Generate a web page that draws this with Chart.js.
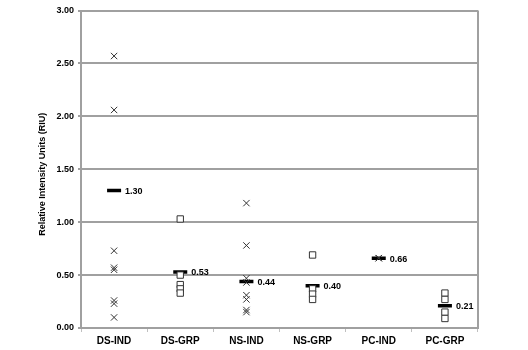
<!DOCTYPE html>
<html>
<head>
<meta charset="utf-8">
<script src="https://cdn.jsdelivr.net/npm/chart.js@4"></script>
<style>
  html, body { margin: 0; padding: 0; background: #fff; }
  #wrap { width: 528px; height: 350px; }
</style>
</head>
<body>
<div id="wrap"><canvas id="riuChart"></canvas></div>
<script>
const categories = ["DS-IND", "DS-GRP", "NS-IND", "NS-GRP", "PC-IND", "PC-GRP"];

// individual measurements (crosses) and group measurements (squares)
const dsInd = [2.57, 2.06, 0.73, 0.57, 0.55, 0.26, 0.23, 0.10];
const nsInd = [1.18, 0.78, 0.47, 0.43, 0.31, 0.27, 0.17, 0.15];
const pcInd = [0.66, 0.66];
const dsGrp = [1.03, 0.50, 0.41, 0.37, 0.33];
const nsGrp = [0.69, 0.37, 0.32, 0.27];
const pcGrp = [0.33, 0.27, 0.15, 0.09];

// mean bars
const means = [1.30, 0.53, 0.44, 0.40, 0.66, 0.21];

const yTicks = [0, 0.5, 1.0, 1.5, 2.0, 2.5, 3.0];
const yTitle = "Relative Intensity Units (RIU)";

const FONT = "'Liberation Sans', Arial, sans-serif";

const toPoints = (cat, values) => values.map((v) => ({ x: cat, y: v }));

const indPoints = [
  ...toPoints("DS-IND", dsInd),
  ...toPoints("NS-IND", nsInd),
  ...toPoints("PC-IND", pcInd),
];
const grpPoints = [
  ...toPoints("DS-GRP", dsGrp),
  ...toPoints("NS-GRP", nsGrp),
  ...toPoints("PC-GRP", pcGrp),
];
const meanPoints = categories.map((c, i) => ({ x: c, y: means[i] }));

// right border, y title and mean value labels
const extras = {
  id: "extras",
  afterDatasetsDraw(chart) {
    const { ctx, chartArea } = chart;
    ctx.save();
    ctx.strokeStyle = "#a0a0a0";
    ctx.lineWidth = 2;
    ctx.beginPath();
    ctx.moveTo(chartArea.right, chartArea.top);
    ctx.lineTo(chartArea.right, chartArea.bottom);
    ctx.stroke();

    const meta = chart.getDatasetMeta(2);
    ctx.fillStyle = "#000";
    ctx.font = "bold 9px " + FONT;
    ctx.textAlign = "left";
    ctx.textBaseline = "middle";
    meta.data.forEach((pt, i) => {
      ctx.fillText(means[i].toFixed(2), pt.x + 11, pt.y + 1);
    });

    ctx.translate(43, (chartArea.top + chartArea.bottom) / 2 + 5);
    ctx.rotate(-Math.PI / 2);
    ctx.textAlign = "center";
    ctx.fillText(yTitle, 0, 0);
    ctx.restore();
  },
};

new Chart(document.getElementById("riuChart"), {
  type: "line",
  data: {
    labels: categories,
    datasets: [
      {
        data: indPoints,
        showLine: false,
        pointStyle: "crossRot",
        pointRadius: 4.5,
        borderColor: "#333",
        borderWidth: 1,
        backgroundColor: "transparent",
      },
      {
        data: grpPoints,
        showLine: false,
        pointStyle: "rect",
        pointRadius: 4.5,
        borderColor: "#333",
        borderWidth: 1,
        backgroundColor: "#fff",
      },
      {
        data: meanPoints,
        showLine: false,
        pointStyle: "line",
        pointRadius: 7,
        borderColor: "#000",
        borderWidth: 3.5,
      },
    ],
  },
  options: {
    responsive: true,
    maintainAspectRatio: false,
    animation: false,
    layout: { padding: { top: 5, right: 50, bottom: 0, left: 0 } },
    plugins: {
      legend: { display: false },
      tooltip: { enabled: false },
    },
    scales: {
      x: {
        offset: true,
        grid: {
          offset: true,
          drawOnChartArea: false,
          tickLength: 4,
          color: "#c0c0c0",
        },
        border: { color: "#a0a0a0", width: 2 },
        ticks: {
          color: "#000",
          font: { family: FONT, size: 10, weight: "bold" },
          padding: 3,
        },
      },
      y: {
        min: 0,
        max: 3,
        afterFit(scale) {
          scale.width = 81;
        },
        afterBuildTicks(scale) {
          scale.ticks = yTicks.map((v) => ({ value: v }));
        },
        grid: {
          color: "#a0a0a0",
          lineWidth: 2,
          tickLength: 3,
        },
        border: { color: "#a0a0a0", width: 2 },
        ticks: {
          color: "#000",
          font: { family: FONT, size: 9, weight: "bold" },
          padding: 4,
          callback: (v) => Number(v).toFixed(2),
        },
      },
    },
  },
  plugins: [extras],
});
</script>
</body>
</html>
